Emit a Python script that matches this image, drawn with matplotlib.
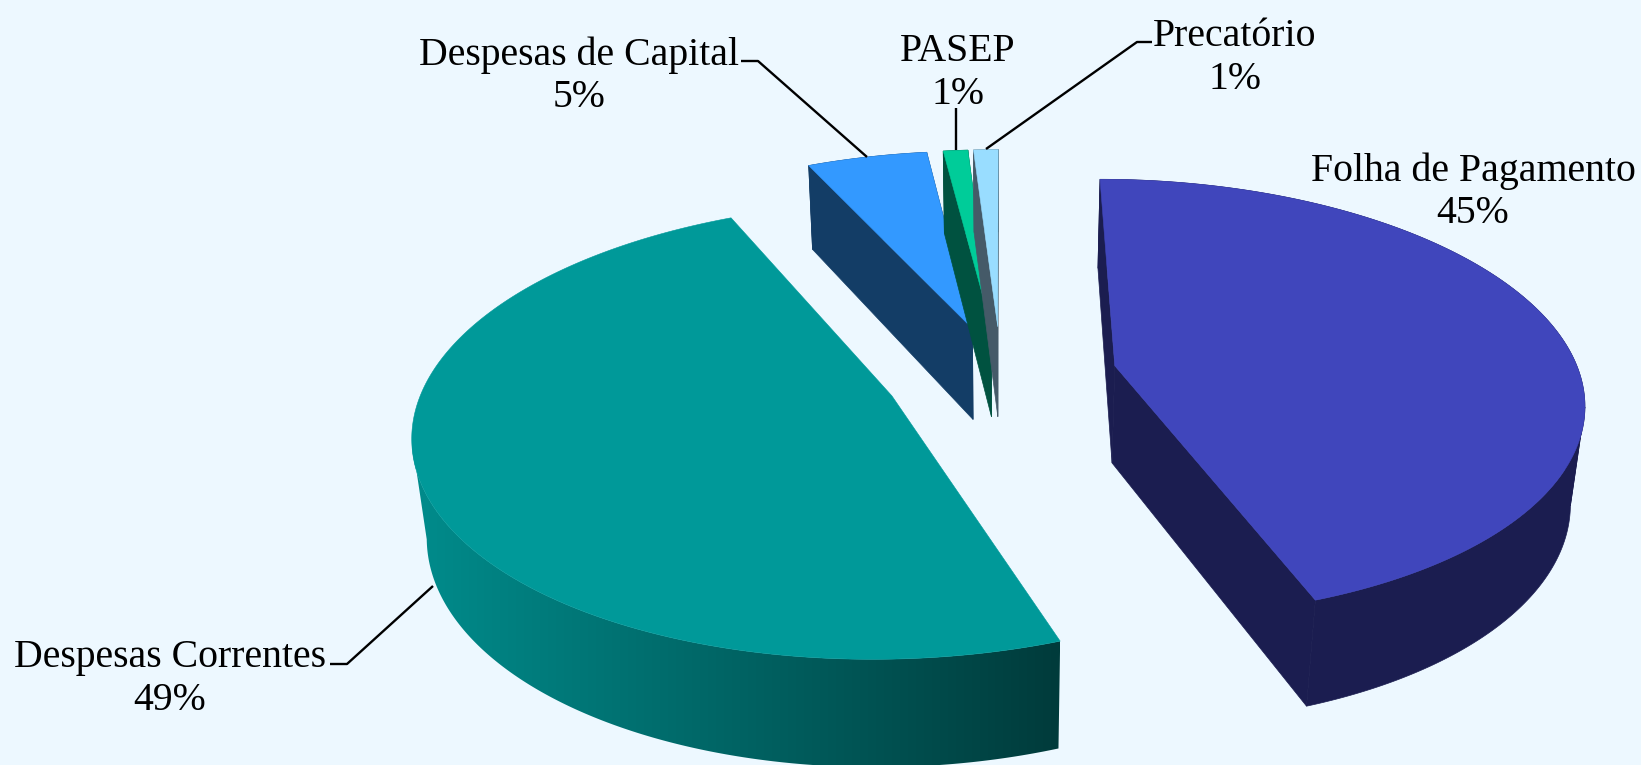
import numpy as np
import matplotlib
matplotlib.use("Agg")
import matplotlib.pyplot as plt
from matplotlib.patches import Polygon
from matplotlib.colors import to_rgb

# data
categories = ["Folha de Pagamento", "Despesas Correntes", "Despesas de Capital", "PASEP", "Precatório"]
values = [44.5, 48.6, 4.9, 1.0, 1.0]
pct_labels = ["45%", "49%", "5%", "1%", "1%"]

# style
BG = "#EDF8FF"
top_colors = ["#4046BC", "#009999", "#3399FF", "#00CC99", "#99DDFF"]
side_colors = ["#1B1D50", "#008C8C", "#133D66", "#005240", "#455A68"]
grad_end = {1: "#003B3B"}
explode = [0.25, 0.25, 0.23, 0.23, 0.23]
depth = [1.0, 1.0, 0.95, 0.94, 0.94]
X0, Y0, A, B, D, K, M = 1001.0, 375.0, 465.0, 217.0, 100.0, 0.15, 0.025

plt.rcParams["font.family"] = ["Liberation Serif", "DejaVu Serif"]
fig = plt.figure(figsize=(16.41, 7.65), dpi=100, facecolor=BG)
ax = fig.add_axes([0, 0, 1, 1])
ax.axis("off")


def proj(X, Y, d=0.0):
    X, Y = np.asarray(X, float), np.asarray(Y, float)
    w = 1 + K * Y + M * d
    return np.column_stack([X0 + A * X / w, Y0 + (-B * Y + D * d) / w])


fr = np.asarray(values) / np.sum(values) * 2 * np.pi
starts = np.concatenate([[0], np.cumsum(fr)[:-1]])
# small back slices first, then the large ones
for i in [2, 3, 4, 0, 1]:
    t0, t1 = starts[i], starts[i] + fr[i]
    mid = (t0 + t1) / 2
    ox, oy = explode[i] * np.sin(mid), explode[i] * np.cos(mid)
    th = np.linspace(t0, t1, max(int(np.degrees(fr[i])), 6) * 4)
    X, Y = ox + np.sin(th), oy + np.cos(th)
    rimt, rimb = proj(X, Y, 0), proj(X, Y, depth[i])
    ct, cb = proj([ox], [oy], 0), proj([ox], [oy], depth[i])
    sc = to_rgb(side_colors[i])
    if i in grad_end:
        # visible band: from the slice start round to its leftmost point, smooth horizontal shading
        kl = int(np.argmin(rimt[:, 0]))
        band = Polygon(np.vstack([rimt[:kl + 1], rimb[kl::-1]]), fc="none", ec="none",
                       transform=ax.transData, zorder=i + 1)
        ax.add_patch(band)
        xmin, xmax = rimt[:, 0].min(), rimb[:, 0].max()
        ramp = np.linspace(0, 1, 512)[None, :, None]
        img = (1 - ramp) * np.array(sc)[None, None, :] + ramp * np.array(to_rgb(grad_end[i]))[None, None, :]
        im = ax.imshow(img, extent=(xmin, xmax + 1, rimt[:, 1].max() + 120, rimb[kl, 1] - 200), aspect="auto",
                       interpolation="bilinear", zorder=i + 1)
        im.set_clip_path(band)
    else:
        for a in (0, -1):
            ax.add_patch(Polygon([ct[0], rimt[a], rimb[a], cb[0]], fc=sc, ec=sc, lw=0.5, zorder=i + 1))
        k = int(np.argmax(rimt[:, 0]))
        ax.add_patch(Polygon(np.vstack([rimt[:k + 1], rimb[k::-1]]), fc=sc, ec=sc, lw=0.5, zorder=i + 1))
        ax.add_patch(Polygon(np.vstack([rimt[k:], rimb[:k - 1 if k else None:-1]]), fc=sc, ec=sc, lw=0.5, zorder=i + 1))
    ax.add_patch(Polygon(np.vstack([ct, rimt]), fc=top_colors[i], ec=top_colors[i], lw=0.4, zorder=i + 1.5))

ax.set_xlim(0, 1641); ax.set_ylim(765, 0)

FS = 28.6
text_pos = [(1473, 192), (170, 679), (579, 76), (958, 73), (1235, 58)]
for name, pct, (x, y) in zip(categories, pct_labels, text_pos):
    ax.text(x, y, f"{name}\n{pct}", ha="center", va="center", fontsize=FS, color="black",
            linespacing=1.18, zorder=20)

leaders = [
    [(741, 61), (758, 61), (867, 157)],
    [(956, 108), (956, 150)],
    [(1152, 42), (1137, 42), (986, 149)],
    [(330, 664), (347, 664), (433, 586)],
]
for pts in leaders:
    xs, ys = zip(*pts)
    ax.plot(xs, ys, color="black", lw=1.7, zorder=10, solid_capstyle="butt")

fig.savefig("out.png", dpi=100, facecolor=BG)
